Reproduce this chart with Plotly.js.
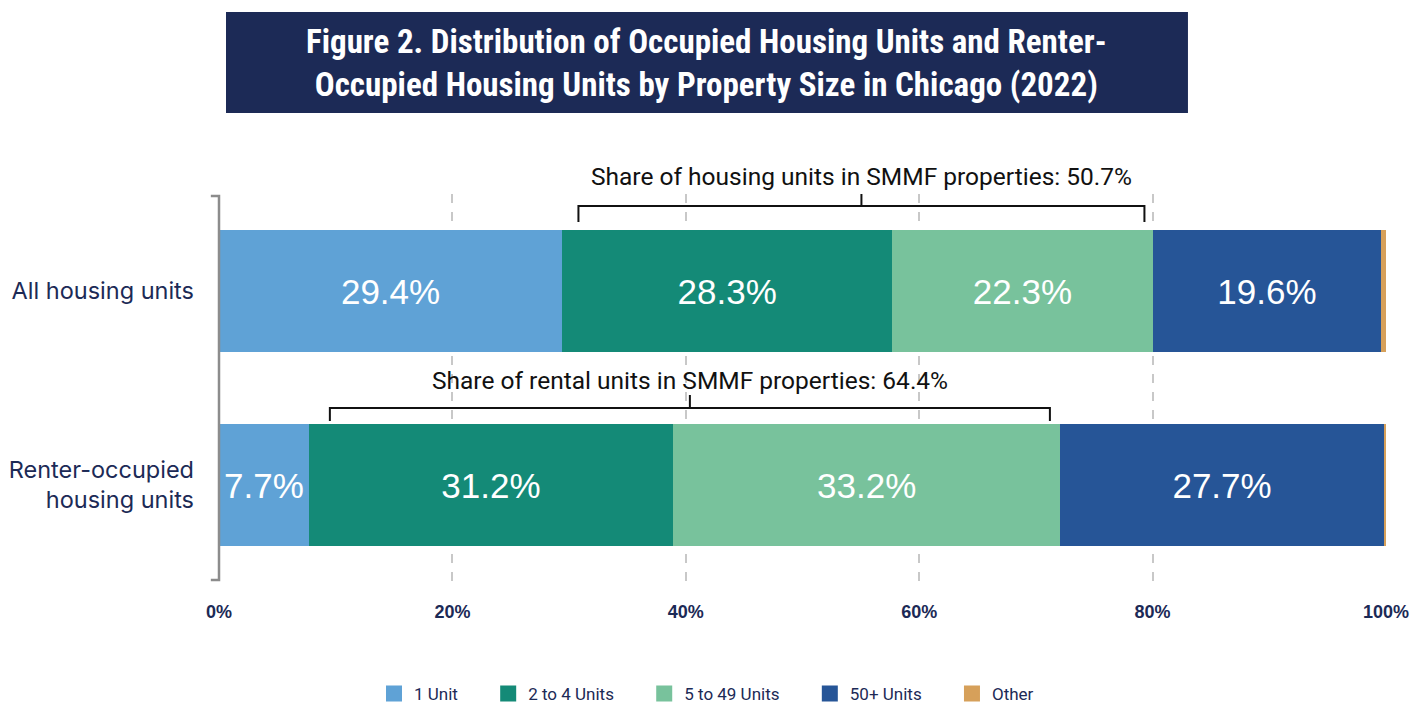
<!DOCTYPE html>
<html>
<head>
<meta charset="utf-8">
<script src="https://cdn.plot.ly/plotly-3.0.1.min.js"></script>
<style>html,body{margin:0;padding:0;background:#fff;}#chart{width:1413px;height:703px;}</style>
</head>
<body>
<div id="chart"></div>
<script>
const categories = ["All housing units", "Renter-occupied<br>housing units"];
const seriesNames = ["1 Unit", "2 to 4 Units", "5 to 49 Units", "50+ Units", "Other"];
const oneUnit = [29.4, 7.7];
const twoToFour = [28.3, 31.2];
const fiveToFortyNine = [22.3, 33.2];
const fiftyPlus = [19.6, 27.7];
const other = [0.4, 0.2];
const xTickVals = [0, 20, 40, 60, 80, 100];
const xTickText = ["0%", "20%", "40%", "60%", "80%", "100%"];
const bracketLabels = ["Share of housing units in SMMF properties: 50.7%", "Share of rental units in SMMF properties: 64.4%"];
const bracketStart = [30.8, 9.5];
const bracketEnd = [79.3, 71.2];

const colors = ["#5fa2d6", "#148a77", "#78c29c", "#265597", "#d6a05a"];
const navy = "#1c2a56";
const values = [oneUnit, twoToFour, fiveToFortyNine, fiftyPlus, other];
const pad = "\u00a0\u00a0\u00a0\u00a0\u00a0\u00a0";

const traces = [];
values.forEach((vals, i) => {
  traces.push({
    type: "bar", orientation: "h", name: seriesNames[i],
    y: categories, x: vals,
    marker: {color: colors[i], line: {width: 0}},
    text: i < 4 ? vals.map(v => v.toFixed(1) + "%") : vals.map(() => ""),
    textposition: i < 4 ? "inside" : "none",
    insidetextanchor: "middle",
    textfont: {family: "Liberation Sans, Arial, sans-serif", size: 35, color: "#ffffff"},
    showlegend: false, hoverinfo: "skip", cliponaxis: false
  });
});
// legend entries
values.forEach((vals, i) => {
  traces.push({
    type: "scatter", mode: "markers", name: i < 4 ? seriesNames[i] + pad : seriesNames[i],
    x: [null], y: [null],
    marker: {symbol: "square", size: 16, color: colors[i]},
    showlegend: true, hoverinfo: "skip"
  });
});

const shapes = [];
const annotations = [];
// title box
shapes.push({type: "rect", xref: "paper", yref: "paper", x0: 0.006, x1: 0.8303, y0: 1.209, y1: 1.469,
  fillcolor: navy, line: {width: 0}, layer: "below"});
annotations.push({xref: "paper", yref: "paper", x: 0.418, y: 1.337, xanchor: "center", yanchor: "middle",
  text: "Figure 2. Distribution of Occupied Housing Units and Renter-<br>Occupied Housing Units by Property Size in Chicago (2022)",
  showarrow: false, align: "center",
  font: {family: "Liberation Sans Narrow, Roboto Condensed, Roboto, sans-serif", size: 33, color: "#ffffff", weight: 700}});
// left axis bracket
const bc = "#8c8c8c";
shapes.push({type: "path", xref: "paper", yref: "paper",
  path: "M -0.007,0.995 L 0,0.995 L 0,0.005 L -0.007,0.005", line: {color: bc, width: 2.5}});
// SMMF brackets
const bY = [[1.0, 0.969, 0.928, 1.044], [0.482, 0.4485, 0.415, 0.5206]];
for (let k = 0; k < 2; k++) {
  const [ytop, ymid, ybot, ytext] = bY[k];
  const mid = (bracketStart[k] + bracketEnd[k]) / 2;
  shapes.push({type: "path", xref: "x", yref: "paper",
    path: `M ${bracketStart[k]},${ybot} L ${bracketStart[k]},${ymid} L ${bracketEnd[k]},${ymid} L ${bracketEnd[k]},${ybot}`,
    line: {color: "#111111", width: 2}});
  shapes.push({type: "line", xref: "x", yref: "paper", x0: mid, x1: mid, y0: ymid, y1: ytop,
    line: {color: "#111111", width: 2}});
  annotations.push({xref: "x", yref: "paper", x: mid, y: ytext, xanchor: "center", yanchor: "middle",
    text: bracketLabels[k], showarrow: false,
    font: {family: "Roboto, sans-serif", size: 24.5, color: "#111111"}});
}

const layout = {
  width: 1413, height: 703,
  margin: {l: 219, r: 27, t: 194, b: 121},
  paper_bgcolor: "#ffffff", plot_bgcolor: "#ffffff",
  barmode: "stack", bargap: 0.37,
  showlegend: true,
  legend: {orientation: "h", traceorder: "normal", xref: "container", yref: "container",
    x: 0.5, xanchor: "center", y: 0.013, yanchor: "middle",
    font: {family: "Roboto, sans-serif", size: 17, color: navy}, itemwidth: 30, tracegroupgap: 0},
  xaxis: {range: [0, 100], tickvals: xTickVals, ticktext: xTickText, showgrid: true,
    gridcolor: "#c8c8c8", griddash: "dash", gridwidth: 2, zeroline: false, showline: false,
    ticks: "", ticklabelstandoff: 17, automargin: false,
    tickfont: {family: "Liberation Sans, Arial, sans-serif", size: 18, color: navy, weight: 700}, fixedrange: true},
  yaxis: {type: "category", categoryorder: "array", categoryarray: categories,
    range: [1.5, -0.5], showgrid: false, zeroline: false, showline: false, ticks: "",
    ticklabelstandoff: 24, automargin: false,
    tickfont: {family: "Inter, sans-serif", size: 23.5, color: navy}, fixedrange: true},
  shapes: shapes, annotations: annotations
};

Plotly.newPlot("chart", traces, layout, {displayModeBar: false, staticPlot: true});
</script>
</body>
</html>
